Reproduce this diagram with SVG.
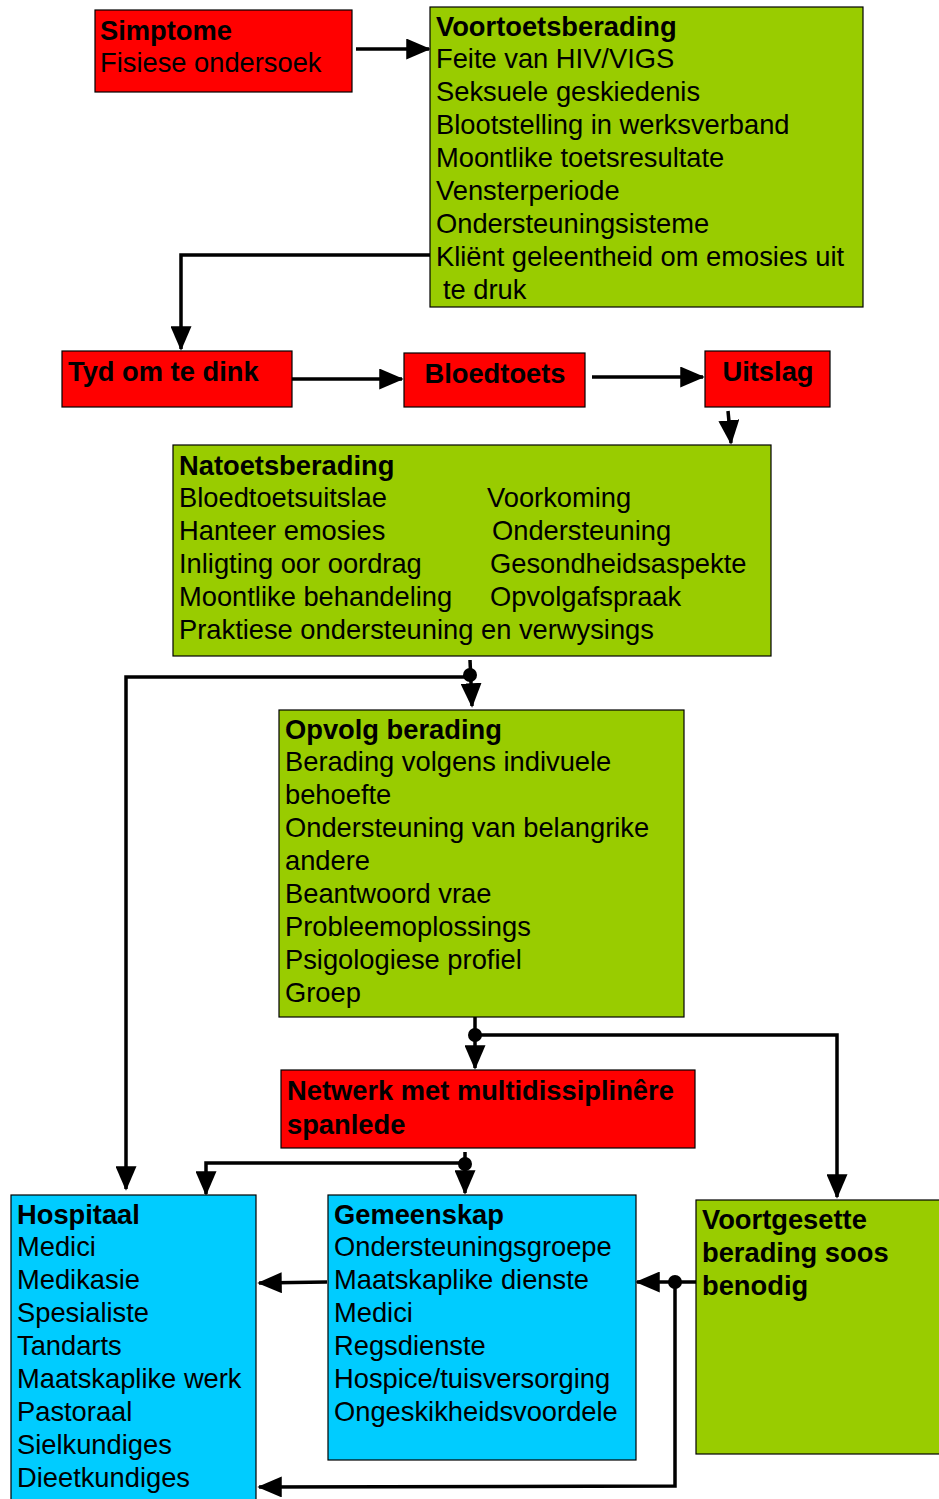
<svg xmlns="http://www.w3.org/2000/svg" width="939" height="1499" viewBox="0 0 939 1499">
<style>
text{font-family:"Liberation Sans",Arial,sans-serif;font-size:27.3px;fill:#000}
.b{font-weight:bold}
.red{fill:#FF0000;stroke:#000;stroke-width:1.2}
.grn{fill:#99CC00;stroke:#000;stroke-width:1.2}
.cyn{fill:#00CCFF;stroke:#000;stroke-width:1.2}
.c{fill:none;stroke:#000;stroke-width:3.5}
</style>
<defs>
<marker id="a" markerWidth="7" markerHeight="6" refX="6.5" refY="3" orient="auto" markerUnits="strokeWidth">
<path d="M0,0 L7,3 L0,6 Z" fill="#000"/>
</marker>
</defs>
<rect width="939" height="1499" fill="#fff"/>
<g id="connectors">
<line class="c" x1="356" y1="49" x2="429" y2="49" marker-end="url(#a)"/>
<polyline class="c" points="430,255 181,255 181,349" marker-end="url(#a)"/>
<line class="c" x1="292" y1="379" x2="402" y2="379" marker-end="url(#a)"/>
<line class="c" x1="592" y1="377" x2="703" y2="377" marker-end="url(#a)"/>
<line class="c" x1="728" y1="411" x2="731" y2="443" marker-end="url(#a)"/>
<line class="c" x1="470" y1="660" x2="472" y2="706" marker-end="url(#a)"/>
<polyline class="c" points="470,677 126,677 126,1189" marker-end="url(#a)"/>
<circle cx="470" cy="675" r="7" fill="#000"/>
<line class="c" x1="475" y1="1017" x2="475" y2="1068" marker-end="url(#a)"/>
<polyline class="c" points="475,1035 837,1035 837,1197" marker-end="url(#a)"/>
<circle cx="475" cy="1035" r="7" fill="#000"/>
<line class="c" x1="465" y1="1152" x2="465" y2="1193" marker-end="url(#a)"/>
<polyline class="c" points="465,1163 206,1163 206,1194" marker-end="url(#a)"/>
<circle cx="465" cy="1164" r="7" fill="#000"/>
<line class="c" x1="327" y1="1282" x2="259" y2="1283" marker-end="url(#a)"/>
<line class="c" x1="696" y1="1282" x2="637" y2="1282" marker-end="url(#a)"/>
<polyline class="c" points="675,1282 675,1486 259,1487" marker-end="url(#a)"/>
<circle cx="675" cy="1282" r="7" fill="#000"/>
</g>
<g id="simptome">
<rect class="red" x="95" y="10" width="257" height="82"/>
<text class="b" x="100" y="40">Simptome</text>
<text x="100" y="72">Fisiese ondersoek</text>
</g>
<g id="voortoets">
<rect class="grn" x="430" y="7" width="433" height="300"/>
<text class="b" x="436" y="36">Voortoetsberading</text>
<text x="436" y="68">Feite van HIV/VIGS</text>
<text x="436" y="101">Seksuele geskiedenis</text>
<text x="436" y="134">Blootstelling in werksverband</text>
<text x="436" y="167">Moontlike toetsresultate</text>
<text x="436" y="200">Vensterperiode</text>
<text x="436" y="233">Ondersteuningsisteme</text>
<text x="436" y="266">Kliënt geleentheid om emosies uit</text>
<text x="443" y="299">te druk</text>
</g>
<g id="tyd">
<rect class="red" x="62" y="351" width="230" height="56"/>
<text class="b" x="68" y="381">Tyd om te dink</text>
</g>
<g id="bloedtoets">
<rect class="red" x="404" y="353" width="181" height="54"/>
<text class="b" x="495" y="383" text-anchor="middle">Bloedtoets</text>
</g>
<g id="uitslag">
<rect class="red" x="705" y="351" width="125" height="56"/>
<text class="b" x="768" y="381" text-anchor="middle">Uitslag</text>
</g>
<g id="natoets">
<rect class="grn" x="173" y="445" width="598" height="211"/>
<text class="b" x="179" y="475">Natoetsberading</text>
<text x="179" y="507">Bloedtoetsuitslae</text>
<text x="179" y="540">Hanteer emosies</text>
<text x="179" y="573">Inligting oor oordrag</text>
<text x="179" y="606">Moontlike behandeling</text>
<text x="179" y="639">Praktiese ondersteuning en verwysings</text>
<text x="487" y="507">Voorkoming</text>
<text x="492" y="540">Ondersteuning</text>
<text x="490" y="573">Gesondheidsaspekte</text>
<text x="490" y="606">Opvolgafspraak</text>
</g>
<g id="opvolg">
<rect class="grn" x="279" y="710" width="405" height="307"/>
<text class="b" x="285" y="739">Opvolg berading</text>
<text x="285" y="771">Berading volgens indivuele</text>
<text x="285" y="804">behoefte</text>
<text x="285" y="837">Ondersteuning van belangrike</text>
<text x="285" y="870">andere</text>
<text x="285" y="903">Beantwoord vrae</text>
<text x="285" y="936">Probleemoplossings</text>
<text x="285" y="969">Psigologiese profiel</text>
<text x="285" y="1002">Groep</text>
</g>
<g id="netwerk">
<rect class="red" x="281" y="1070" width="414" height="78"/>
<text class="b" x="287" y="1100">Netwerk met multidissiplinêre</text>
<text class="b" x="287" y="1134">spanlede</text>
</g>
<g id="hospitaal">
<rect class="cyn" x="11" y="1195" width="245" height="310"/>
<text class="b" x="17" y="1224">Hospitaal</text>
<text x="17" y="1256">Medici</text>
<text x="17" y="1289">Medikasie</text>
<text x="17" y="1322">Spesialiste</text>
<text x="17" y="1355">Tandarts</text>
<text x="17" y="1388">Maatskaplike werk</text>
<text x="17" y="1421">Pastoraal</text>
<text x="17" y="1454">Sielkundiges</text>
<text x="17" y="1487">Dieetkundiges</text>
</g>
<g id="gemeenskap">
<rect class="cyn" x="328" y="1195" width="308" height="265"/>
<text class="b" x="334" y="1224">Gemeenskap</text>
<text x="334" y="1256">Ondersteuningsgroepe</text>
<text x="334" y="1289">Maatskaplike dienste</text>
<text x="334" y="1322">Medici</text>
<text x="334" y="1355">Regsdienste</text>
<text x="334" y="1388">Hospice/tuisversorging</text>
<text x="334" y="1421">Ongeskikheidsvoordele</text>
</g>
<g id="voortgesette">
<rect class="grn" x="696" y="1200" width="250" height="254"/>
<text class="b" x="702" y="1229">Voortgesette</text>
<text class="b" x="702" y="1262">berading soos</text>
<text class="b" x="702" y="1295">benodig</text>
</g>
</svg>
